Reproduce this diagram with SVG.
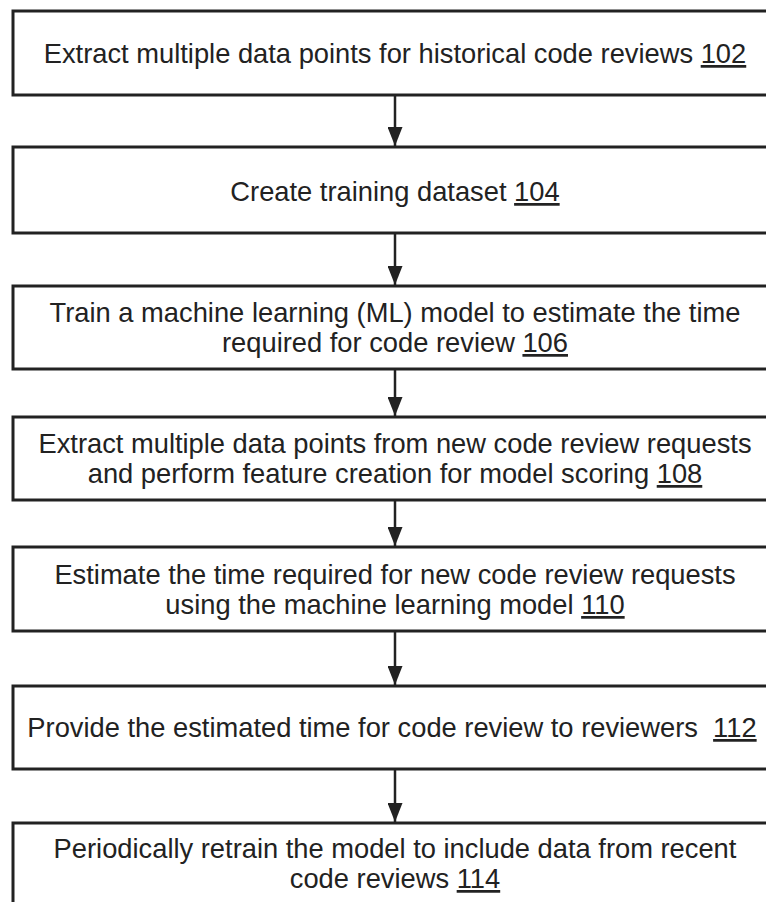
<svg xmlns="http://www.w3.org/2000/svg" width="766" height="902" viewBox="0 0 766 902">
<defs>
<style>
.box{fill:#fff;stroke:#222;stroke-width:3}
.t{font-family:"Liberation Sans",Arial,sans-serif;font-size:27.3px;fill:#222;text-anchor:middle}
.u{text-decoration:underline}
.c{stroke:#222;stroke-width:2.5;fill:none}
</style>
<marker id="ah" markerWidth="19" markerHeight="15" refX="19" refY="7.5" orient="auto" markerUnits="userSpaceOnUse" viewBox="0 0 19 15">
<path d="M0,0 L19,7.5 L0,15 Z" fill="#222"/>
</marker>
</defs>
<rect width="766" height="902" fill="#fff"/>
<g id="connectors">
<line class="c" x1="395" y1="96" x2="395" y2="146" marker-end="url(#ah)"/>
<line class="c" x1="395" y1="234" x2="395" y2="285" marker-end="url(#ah)"/>
<line class="c" x1="395" y1="370" x2="395" y2="416" marker-end="url(#ah)"/>
<line class="c" x1="395" y1="501" x2="395" y2="546" marker-end="url(#ah)"/>
<line class="c" x1="395" y1="632" x2="395" y2="685" marker-end="url(#ah)"/>
<line class="c" x1="395" y1="770" x2="395" y2="822" marker-end="url(#ah)"/>
</g>
<g id="n102">
<rect class="box" x="13" y="11" width="765" height="84"/>
<text class="t" x="395" y="63">Extract multiple data points for historical code reviews <tspan class="u">102</tspan></text>
</g>
<g id="n104">
<rect class="box" x="13" y="147" width="765" height="86"/>
<text class="t" x="395" y="201">Create training dataset <tspan class="u">104</tspan></text>
</g>
<g id="n106">
<rect class="box" x="13" y="286" width="765" height="83"/>
<text class="t" x="395" y="322">Train a machine learning (ML) model to estimate the time</text>
<text class="t" x="395" y="352">required for code review <tspan class="u">106</tspan></text>
</g>
<g id="n108">
<rect class="box" x="13" y="417" width="765" height="83"/>
<text class="t" x="395" y="453">Extract multiple data points from new code review requests</text>
<text class="t" x="395" y="483">and perform feature creation for model scoring <tspan class="u">108</tspan></text>
</g>
<g id="n110">
<rect class="box" x="13" y="547" width="765" height="84"/>
<text class="t" x="395" y="584">Estimate the time required for new code review requests</text>
<text class="t" x="395" y="614">using the machine learning model <tspan class="u">110</tspan></text>
</g>
<g id="n112">
<rect class="box" x="13" y="686" width="765" height="83"/>
<text class="t" x="392" y="737">Provide the estimated time for code review to reviewers&#160; <tspan class="u">112</tspan></text>
</g>
<g id="n114">
<rect class="box" x="13" y="823" width="765" height="100"/>
<text class="t" x="395" y="858">Periodically retrain the model to include data from recent</text>
<text class="t" x="395" y="888">code reviews <tspan class="u">114</tspan></text>
</g>
</svg>
